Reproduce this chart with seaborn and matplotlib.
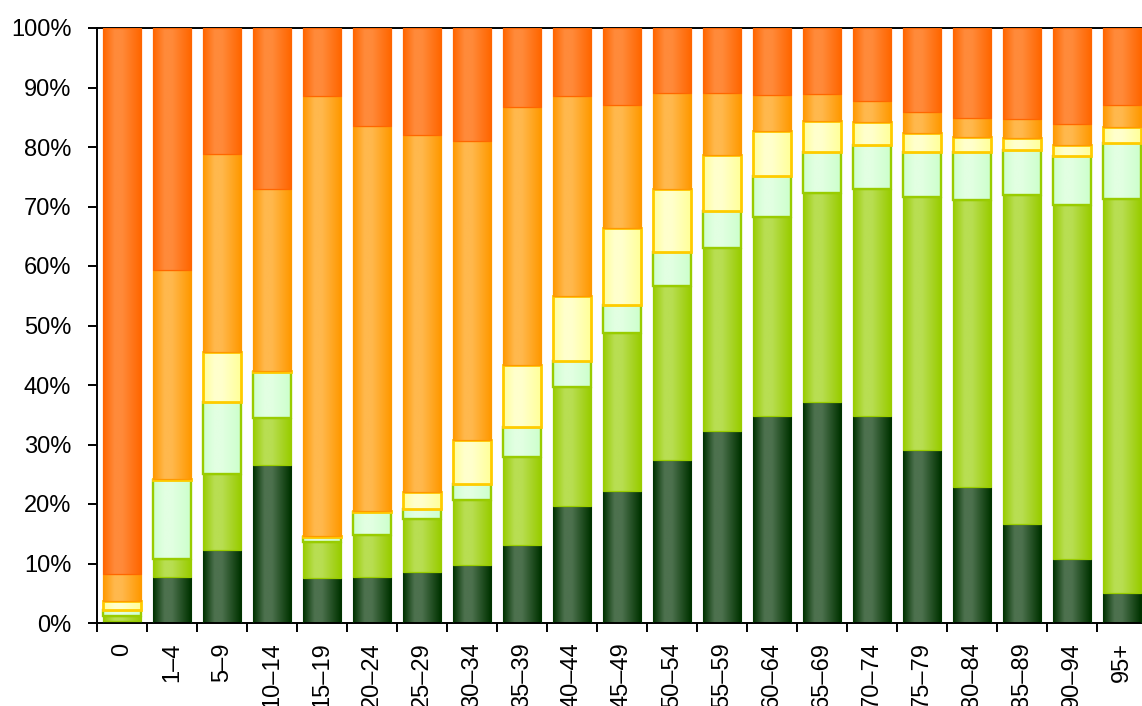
import numpy as np
import matplotlib
matplotlib.use("Agg")
import matplotlib.pyplot as plt
import seaborn as sns
from matplotlib.colors import to_rgb
from matplotlib.ticker import FuncFormatter

sns.set_theme(style="white")
plt.rcParams['font.family'] = ['Liberation Sans', 'DejaVu Sans']

ages = ["0", "1–4", "5–9", "10–14", "15–19", "20–24", "25–29", "30–34", "35–39",
        "40–44", "45–49", "50–54", "55–59", "60–64", "65–69", "70–74", "75–79",
        "80–84", "85–89", "90–94", "95+"]

# share of each band in %, bottom to top
band1 = [0.3, 7.8, 12.2, 26.6, 7.6, 7.8, 8.6, 9.8, 13.1, 19.7, 22.2,
         27.4, 32.3, 34.8, 37.2, 34.8, 29.1, 22.9, 16.6, 10.7, 5.0]
band2 = [0.9, 2.9, 12.8, 7.9, 6.0, 7.0, 8.9, 10.9, 14.8, 19.9, 26.5,
         29.2, 30.8, 33.4, 35.1, 38.2, 42.5, 48.2, 55.4, 59.5, 66.2]
band3 = [1.0, 13.4, 12.2, 7.7, 0.9, 3.8, 1.6, 2.7, 5.1, 4.4, 4.8,
         5.8, 6.2, 6.9, 6.9, 7.4, 7.6, 8.1, 7.5, 8.3, 9.5]
band4 = [1.5, 0.1, 8.4, 0.1, 0.2, 0.3, 2.9, 7.4, 10.4, 11.0, 12.9,
         10.6, 9.4, 7.6, 5.2, 3.8, 3.1, 2.4, 2.0, 1.9, 2.6]
band5 = [4.5, 35.1, 33.3, 30.6, 73.8, 64.6, 60.0, 50.2, 43.4, 33.6, 20.7,
         16.1, 10.3, 6.1, 4.5, 3.5, 3.5, 3.3, 3.2, 3.4, 3.8]
band6 = [91.8, 40.7, 21.1, 27.1, 11.5, 16.5, 18.0, 19.0, 13.2, 11.4, 12.9,
         10.9, 11.0, 11.2, 11.1, 12.3, 14.2, 15.1, 15.3, 16.2, 12.9]
bands = [band1, band2, band3, band4, band5, band6]

# edge shade, centre shade, outline colour, outline width
styles = [
    ("#003300", "#4D714E", "#003300", 0.8),
    ("#99CC00", "#B8DE52", "#99CC00", 0.9),
    ("#CCFFCC", "#E2FFE2", "#99CC00", 1.7),
    ("#FFFF99", "#FFFFCC", "#FFCC00", 2.0),
    ("#FF9900", "#FFB84D", "#FF9900", 0.9),
    ("#FF6600", "#FF8A3A", "#FF6600", 0.9),
]


def gradient(c_edge, c_mid, n=64):
    t = np.linspace(0, 1, n)
    w = np.interp(t, [0, 0.3, 0.5, 1], [0, 1, 1, 0])
    a, b = np.array(to_rgb(c_edge)), np.array(to_rgb(c_mid))
    row = a + (b - a) * w[:, None]
    return np.stack([row, row])


fig = plt.figure(figsize=(11.42, 7.06), dpi=100)
ax = fig.add_axes([97 / 1142, 83 / 706, 1050 / 1142, 595 / 706])

bottom = np.zeros(len(ages))
for k, (vals, (c_edge, c_mid, c_line, lw)) in enumerate(zip(bands, styles)):
    n0 = len(ax.patches)
    sns.barplot(x=ages, y=vals, bottom=bottom, width=0.76, color=c_mid,
                saturation=1, errorbar=None, ax=ax)
    img = gradient(c_edge, c_mid)
    for p in ax.patches[n0:]:
        x0, y0, w, h = p.get_x(), p.get_y(), p.get_width(), p.get_height()
        im = ax.imshow(img, extent=[x0, x0 + w, y0, y0 + h], aspect="auto",
                       interpolation="bilinear", zorder=2 + 2 * k)
        im.set_clip_path(p)
        p.set_facecolor("none")
        p.set_edgecolor(c_line)
        p.set_linewidth(lw)
        p.set_zorder(3 + 2 * k)
    bottom = bottom + np.array(vals)

ax.set_xlim(-0.5, len(ages) - 0.5)
ax.set_ylim(0, 100)
ax.set_yticks(np.arange(0, 101, 10))
ax.yaxis.set_major_formatter(FuncFormatter(lambda v, _: f"{v:.0f}%"))
ax.set_xticks(np.arange(-0.5, len(ages), 1), minor=True)
ax.set_xlabel("")
ax.set_ylabel("")

for side in ["left", "bottom", "top"]:
    ax.spines[side].set_color("black")
    ax.spines[side].set_linewidth(1.4)
ax.spines["right"].set_visible(False)

ax.tick_params(axis="y", which="major", left=True, direction="out", length=6.5,
               width=1.4, color="black", labelsize=17, labelcolor="black", pad=12)
ax.tick_params(axis="x", which="major", bottom=False, length=0, labelsize=17,
               labelcolor="black", pad=14, labelrotation=90)
ax.tick_params(axis="x", which="minor", bottom=True, direction="out", length=6.5,
               width=1.4, color="black")

fig.savefig("out.png", dpi=100)
